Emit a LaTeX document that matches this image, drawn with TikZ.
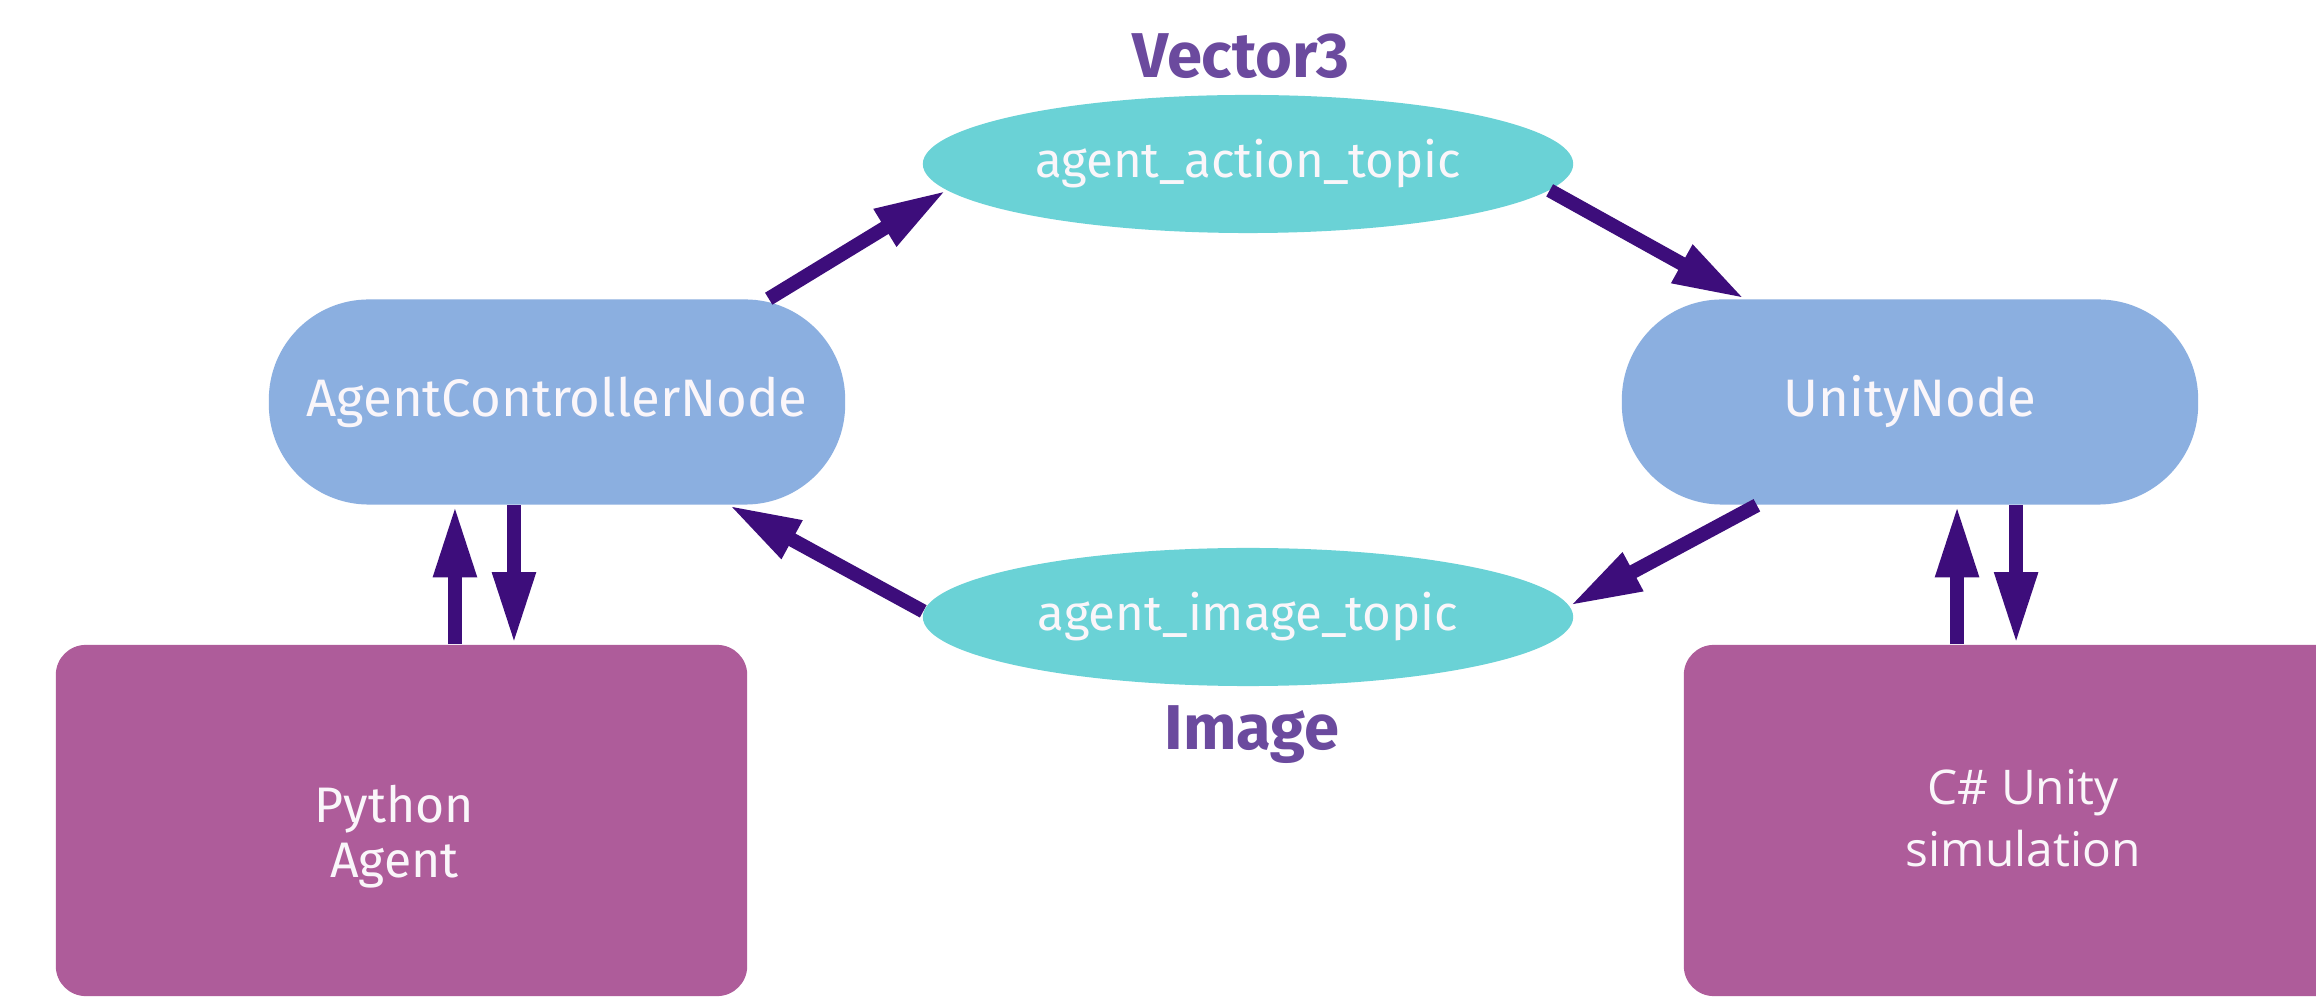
\documentclass[tikz,border=0pt]{standalone}
\usepackage{fontspec}
\setmainfont{Fira Sans}
\newfontfamily\osans{Open Sans}
\usetikzlibrary{arrows.meta,shapes.geometric,calc}
\definecolor{topicc}{RGB}{106,210,214}
\definecolor{nodec}{RGB}{139,175,224}
\definecolor{boxc}{RGB}{174,92,154}
\definecolor{arrc}{RGB}{61,13,123}
\definecolor{labc}{RGB}{107,74,158}
\definecolor{txtc}{RGB}{250,246,250}
\tikzset{
  topic/.style={ellipse, fill=topicc, inner sep=0pt, minimum width=6.5cm, minimum height=1.38cm,
    text=txtc, font=\fontsize{14pt}{17pt}\selectfont},
  rosnode/.style={rectangle, rounded corners=1cm, fill=nodec, inner sep=0pt, minimum width=5.76cm,
    minimum height=2.05cm, text=txtc, font=\fontsize{15pt}{18pt}\selectfont},
  progbox/.style={rectangle, rounded corners=0.3cm, fill=boxc, inner sep=0pt, minimum height=3.51cm},
  boxtext/.style={text=txtc, align=center, inner sep=0pt},
  typelabel/.style={text=labc, font=\bfseries\fontsize{18pt}{21pt}\selectfont, inner sep=0pt},
  arr/.style={draw=arrc, line width=4pt, -{Triangle[length=0.72cm,width=0.40cm]}},
}
\begin{document}
\begin{tikzpicture}[x=0.01cm,y=-0.01cm]
\clip (0,0) rectangle (2316,998);
\fill[white] (0,0) rectangle (2316,998);

% topics
\node[topic] (act) at (1248,164) {agent\_action\_topic};
\node[topic] (img) at (1248,617) {agent\_image\_topic};
\node[typelabel] (vec) at (1241,56) {Vector3};
\node[typelabel] (imglab) at (1252,735) {Image};

% ROS nodes
\node[rosnode] (acn) at (557,402) {AgentControllerNode};
\node[rosnode] (un) at (1910,402) {UnityNode};

% program boxes
\node[progbox, minimum width=6.91cm] (py) at (401.5,820.5) {};
\node[progbox, minimum width=6.72cm] (cs) at (2020,820.5) {};
\node[boxtext, font=\fontsize{14.2pt}{15.6pt}\selectfont] (pyt) at ([xshift=-0.07cm,yshift=-0.16cm]py.center) {Python\\Agent};
\node[boxtext, font=\osans\fontsize{13.6pt}{17.6pt}\selectfont] (cst) at ([xshift=0.03cm,yshift=0.02cm]cs.center) {C\# Unity\\simulation};

% diagonal arrows
\draw[arr] (acn.26) -- (act.185);
\draw[arr] (act.355) -- (un.148);
\draw[arr] (un.214) -- (img.2);
\draw[arr] (img.179) -- (acn.-31);

% vertical arrows
\coordinate (l1) at ([xshift=-1.02cm]acn.south);
\coordinate (l2) at ([xshift=-0.43cm]acn.south);
\coordinate (r1) at ([xshift=0.47cm]un.south);
\coordinate (r2) at ([xshift=1.06cm]un.south);
\draw[arr] (l1 |- py.north) -- (l1);
\draw[arr] (l2) -- (l2 |- py.north);
\draw[arr] (r1 |- cs.north) -- (r1);
\draw[arr] (r2) -- (r2 |- cs.north);
\end{tikzpicture}
\end{document}
